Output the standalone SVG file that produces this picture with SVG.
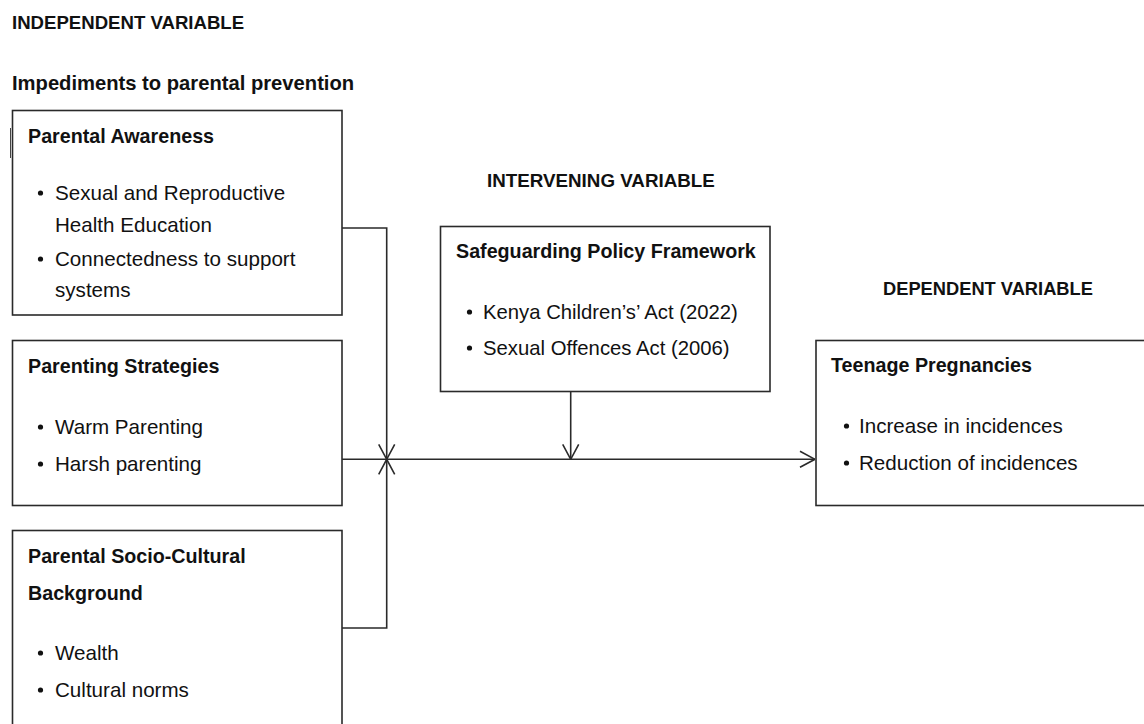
<svg xmlns="http://www.w3.org/2000/svg" width="1144" height="724" viewBox="0 0 1144 724">
<style>
.box{fill:#fff;stroke:#2a2a2a;stroke-width:1.6}
.hdr{font-family:"Liberation Sans",Arial,sans-serif;font-weight:bold;font-size:18.6px;fill:#111}
.ttl{font-family:"Liberation Sans",Arial,sans-serif;font-weight:bold;font-size:19.7px;fill:#111}
.txt{font-family:"Liberation Sans",Arial,sans-serif;font-size:20.6px;fill:#111}
.bul{fill:#111}
.con{fill:none;stroke:#2a2a2a;stroke-width:1.6}
</style>
<defs>
<marker id="arr" viewBox="0 0 16 18" refX="16" refY="9" markerWidth="16" markerHeight="18" markerUnits="userSpaceOnUse" orient="auto">
<path d="M1,1 L16,9 L1,17" fill="none" stroke="#2a2a2a" stroke-width="1.6"/>
</marker>
</defs>
<rect width="1144" height="724" fill="#fff"/>

<g id="labels">
<text class="hdr" x="12" y="29">INDEPENDENT VARIABLE</text>
<text class="ttl" x="12" y="90" style="font-size:20.2px">Impediments to parental prevention</text>
<text class="hdr" x="487" y="187" style="font-size:18.8px">INTERVENING VARIABLE</text>
<text class="hdr" x="883" y="295" style="font-size:18.3px">DEPENDENT VARIABLE</text>
</g>

<g id="parental-awareness">
<rect class="box" x="12.5" y="110.5" width="329.5" height="204.5"/>
<line x1="10.5" y1="128" x2="10.5" y2="158" stroke="#444" stroke-width="1"/>
<text class="ttl" x="28" y="143">Parental Awareness</text>
<circle class="bul" cx="40.5" cy="193" r="2.6"/>
<text class="txt" x="55" y="200">Sexual and Reproductive</text>
<text class="txt" x="55" y="232">Health Education</text>
<circle class="bul" cx="40.5" cy="259" r="2.6"/>
<text class="txt" x="55" y="266">Connectedness to support</text>
<text class="txt" x="55" y="297">systems</text>
</g>

<g id="parenting-strategies">
<rect class="box" x="12.5" y="340.5" width="329.5" height="165"/>
<text class="ttl" x="28" y="373">Parenting Strategies</text>
<circle class="bul" cx="40.5" cy="427" r="2.6"/>
<text class="txt" x="55" y="434">Warm Parenting</text>
<circle class="bul" cx="40.5" cy="464" r="2.6"/>
<text class="txt" x="55" y="471">Harsh parenting</text>
</g>

<g id="socio-cultural">
<rect class="box" x="12.5" y="530.5" width="329.5" height="210"/>
<text class="ttl" x="28" y="563">Parental Socio-Cultural</text>
<text class="ttl" x="28" y="600">Background</text>
<circle class="bul" cx="40.5" cy="653" r="2.6"/>
<text class="txt" x="55" y="660">Wealth</text>
<circle class="bul" cx="40.5" cy="690" r="2.6"/>
<text class="txt" x="55" y="697">Cultural norms</text>
</g>

<g id="safeguarding">
<rect class="box" x="440.5" y="226.5" width="329.5" height="165"/>
<text class="ttl" x="456" y="258">Safeguarding Policy Framework</text>
<circle class="bul" cx="469.5" cy="312" r="2.6"/>
<text class="txt" x="483" y="319" style="font-size:20.3px">Kenya Children’s’ Act (2022)</text>
<circle class="bul" cx="469.5" cy="348" r="2.6"/>
<text class="txt" x="483" y="355" style="font-size:20.3px">Sexual Offences Act (2006)</text>
</g>

<g id="teenage-pregnancies">
<rect class="box" x="816" y="340.5" width="340" height="165"/>
<text class="ttl" x="831" y="372">Teenage Pregnancies</text>
<circle class="bul" cx="846.5" cy="426" r="2.6"/>
<text class="txt" x="859" y="433">Increase in incidences</text>
<circle class="bul" cx="846.5" cy="463" r="2.6"/>
<text class="txt" x="859" y="470">Reduction of incidences</text>
</g>

<g id="connectors">
<path class="con" d="M342,228 H386.7 V459.3" marker-end="url(#arr)"/>
<path class="con" d="M342,628 H386.7 V459.3" marker-end="url(#arr)"/>
<path class="con" d="M342,459.3 H815" marker-end="url(#arr)"/>
<path class="con" d="M570.7,392 V459.3" marker-end="url(#arr)"/>
</g>
</svg>
